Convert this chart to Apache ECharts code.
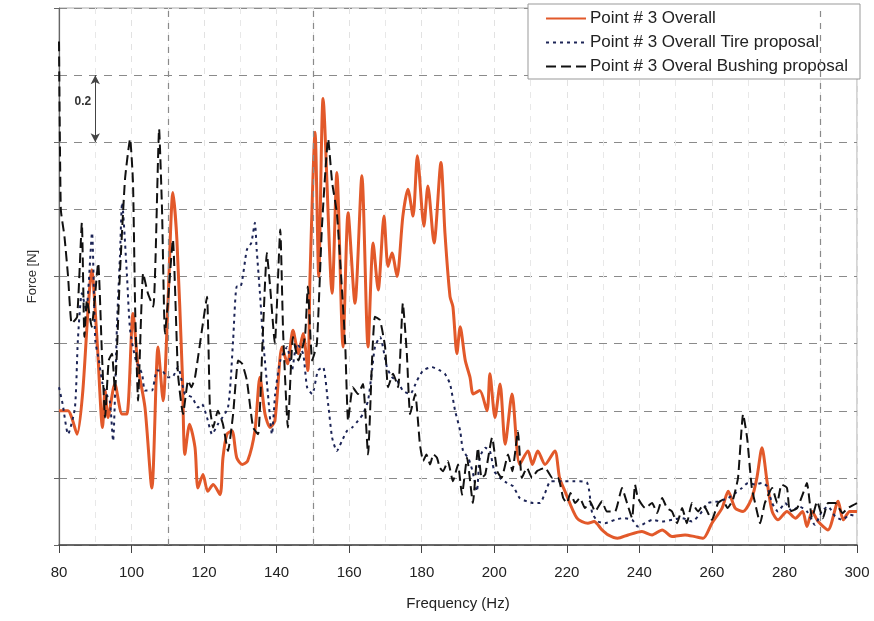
<!DOCTYPE html>
<html>
<head>
<meta charset="utf-8">
<script src="https://cdn.jsdelivr.net/npm/echarts@6/dist/echarts.min.js"></script>
<style>html,body{margin:0;padding:0;background:#fff;}#main{width:874px;height:621px;}</style>
</head>
<body>
<div id="main"></div>
<script>
// ---- Data ----
const seriesNames = ['Point # 3 Overall', 'Point # 3 Overall Tire proposal', 'Point # 3 Overal Bushing proposal'];
const xTicks = [80,100,120,140,160,180,200,220,240,260,280,300];

const overallFreq = [80,82.5,83.5,85,86.5,88,89,90.5,92,92.7,93.5,95.4,97.4,98.7,100.4,101.8,103.7,105.6,107.3,108.7,110,111.4,112.5,114,114.7,116,117.5,118.3,119.7,121,122.5,124.4,125.2,126.3,127.7,129,130.5,132,134,135.4,136.8,138.2,139.5,141.5,143,144.5,146,147.3,148.6,149.2,150.6,151.6,152.8,155.3,156.6,158.3,159.7,161.6,163.5,165.2,166.6,168,169.6,170.7,171.8,173.2,174.8,176.2,177.6,178.8,180.6,181.7,183.4,185.3,186.4,187.8,188.6,189.7,190.6,192,193.3,194.2,196,198,198.8,200.2,201.6,203,204.9,207,209.3,210.5,212,214,216.7,218,219.5,222.8,225.8,227.5,229.7,231.4,234,236.9,240.7,243.5,246.3,249,252.6,255.3,257.6,260,262.8,264.5,266.4,268.6,271,272.4,273.8,275.2,276.6,278.2,280.7,283,285,286.2,287.6,289.3,292,294.8,296.2,298,300];
const overallForce = [0.40,0.40,0.38,0.33,0.45,0.70,0.82,0.61,0.35,0.46,0.38,0.48,0.39,0.39,0.69,0.53,0.41,0.17,0.59,0.43,0.71,1.05,0.91,0.51,0.27,0.36,0.29,0.17,0.21,0.16,0.18,0.15,0.26,0.33,0.34,0.26,0.24,0.25,0.34,0.50,0.39,0.35,0.37,0.59,0.54,0.64,0.57,0.63,0.52,0.80,1.23,0.80,1.33,0.75,1.11,0.59,0.99,0.72,1.10,0.59,0.90,0.76,0.98,0.83,0.87,0.80,0.98,1.06,0.98,1.16,0.95,1.07,0.90,1.14,0.93,0.74,0.71,0.57,0.65,0.55,0.50,0.45,0.46,0.40,0.51,0.38,0.48,0.30,0.45,0.24,0.28,0.24,0.28,0.24,0.28,0.20,0.16,0.08,0.065,0.07,0.045,0.03,0.02,0.03,0.04,0.03,0.045,0.025,0.03,0.025,0.02,0.065,0.11,0.16,0.11,0.10,0.14,0.20,0.29,0.19,0.10,0.075,0.10,0.08,0.10,0.055,0.10,0.07,0.045,0.13,0.075,0.10,0.10];

const tireFreq = [80,81,82.5,84.4,85.2,86.3,87.5,89.1,90,91,92,93,94,94.9,96,96.8,97.4,98.7,99.6,101.2,102.9,103.7,105.6,107,108.4,109.8,111.2,112.8,114.7,116.7,118.3,119.4,120.8,122.2,123.8,126.6,128,129,130,131.8,133,134,134.5,135.4,136.2,137.6,138.7,139.6,141,142.9,144.2,145.6,147.3,148.4,149.8,151.4,152.8,154.2,155.3,156.6,158,159.4,160.8,162.4,163.8,165.2,166.3,167.1,168.5,170.4,171.8,173.2,174.8,176.8,178.7,180.4,182.8,185,186.4,187.8,189.2,190.6,191.4,192.8,194,195.2,196,197.5,198.8,200,201.5,203.5,205.2,207,209,210.7,212.6,214,215.5,217,219.5,222,225.6,227,228.6,230.5,233.3,235.5,238,239.6,241.6,243.5,246.3,249,251.8,254.5,257.3,258.9,261.7,264.5,266.5,268.3,270,271.9,273.8,275.2,276.6,278.2,280.2,282.1,284,286.2,288.4,290.3,292,294,296,298,300];
const tireForce = [0.47,0.42,0.33,0.41,0.61,0.75,0.70,0.93,0.61,0.55,0.48,0.45,0.43,0.31,0.66,0.86,1.02,0.81,0.64,0.55,0.51,0.46,0.46,0.52,0.52,0.50,0.50,0.53,0.45,0.44,0.41,0.42,0.38,0.33,0.36,0.41,0.61,0.77,0.77,0.88,0.90,0.96,0.88,0.75,0.62,0.45,0.33,0.45,0.55,0.59,0.52,0.60,0.57,0.47,0.45,0.52,0.53,0.42,0.32,0.28,0.31,0.34,0.35,0.37,0.39,0.43,0.52,0.59,0.62,0.53,0.50,0.49,0.46,0.45,0.49,0.52,0.53,0.52,0.51,0.48,0.40,0.34,0.28,0.26,0.22,0.16,0.26,0.29,0.28,0.22,0.20,0.185,0.175,0.14,0.13,0.125,0.125,0.155,0.19,0.19,0.19,0.19,0.185,0.095,0.07,0.065,0.075,0.08,0.075,0.055,0.065,0.075,0.07,0.075,0.08,0.07,0.10,0.125,0.13,0.14,0.155,0.17,0.185,0.18,0.185,0.175,0.125,0.10,0.125,0.10,0.115,0.10,0.06,0.10,0.115,0.085,0.075,0.09,0.085];

const bushFreq = [80,80.5,81.5,82.5,83.5,85,86.3,87,87.7,89,90.8,91.8,92.7,93.7,94.6,95.4,96.8,98.2,99.6,100.4,101,101.8,103.2,104.5,106,106.6,107.6,108.4,109.2,110,111.4,112.8,114.2,115.6,116.5,117.5,119.4,120.8,121.6,122.5,123.8,125.2,126.6,128,129.4,130.5,131.8,133.5,134.9,136.2,137.3,138.2,139.5,141,141.8,143.1,144.5,146,147.8,148.6,149.8,151.1,152.5,154.2,155.3,156.6,157.5,158.9,159.7,161,162.4,163.8,165.2,166.3,167.1,168.5,169.9,170.7,172.1,173.5,174.8,175.9,176.8,178.2,179.5,180.4,181.3,182.3,183.2,184.2,185,185.9,187.2,188.6,190,191.1,192.5,194.1,195.5,196.5,197.5,199.4,200.8,202,203.8,205,206.5,207.6,209,210.4,211.8,214,216,217.6,219,220,221,222.3,223.6,225,226.4,227.8,229.7,231,233.3,235.2,236.6,238,238.8,239.6,241.6,243.5,244.9,246.3,247.6,249,250.4,251.8,253.1,254.5,256.2,257.6,260,261.7,263,264.3,265.8,267.2,268.6,269.7,271,271.9,273.3,274.6,276.6,278,279.2,280.7,281.5,283.5,285,286.2,287.6,289,290.6,292,294,296,297.5,300];
const bushForce = [1.50,1.00,0.92,0.80,0.66,0.68,0.96,0.62,0.73,0.65,0.84,0.58,0.38,0.55,0.57,0.46,0.81,1.09,1.21,1.08,0.70,0.43,0.81,0.75,0.71,0.85,1.24,1.00,0.63,0.72,0.91,0.51,0.39,0.49,0.47,0.50,0.64,0.74,0.41,0.35,0.40,0.36,0.28,0.39,0.55,0.54,0.49,0.35,0.33,0.63,0.87,0.77,0.60,0.94,0.63,0.35,0.62,0.55,0.62,0.77,0.55,0.60,0.95,1.21,1.08,0.99,0.85,0.60,0.37,0.47,0.45,0.48,0.27,0.55,0.68,0.67,0.59,0.47,0.51,0.47,0.72,0.57,0.39,0.45,0.30,0.25,0.27,0.24,0.27,0.26,0.23,0.22,0.25,0.19,0.24,0.15,0.26,0.125,0.29,0.20,0.21,0.32,0.22,0.20,0.27,0.22,0.34,0.20,0.23,0.20,0.22,0.23,0.20,0.20,0.14,0.125,0.155,0.125,0.14,0.11,0.13,0.10,0.13,0.10,0.10,0.17,0.125,0.08,0.18,0.14,0.11,0.125,0.095,0.14,0.11,0.10,0.065,0.11,0.065,0.125,0.10,0.12,0.075,0.125,0.135,0.11,0.135,0.20,0.39,0.32,0.17,0.125,0.065,0.125,0.17,0.125,0.18,0.17,0.10,0.11,0.15,0.185,0.08,0.13,0.08,0.125,0.125,0.095,0.11,0.125];

// reference (darker) vertical grid lines and the "0.2" scale annotation
const darkGridFreq = [110, 150, 290];
const annotFreq = 90, annotLow = 1.2, annotHigh = 1.4;
const annotLabelPos = [86.6, 1.32];

function zip(a, b) { return a.map((x, i) => [x, b[i]]); }

const FONT = "'Liberation Sans Narrow', 'Liberation Sans', Arial, sans-serif";
const chart = echarts.init(document.getElementById('main'), null, {renderer: 'canvas'});

chart.setOption({
  animation: false,
  backgroundColor: '#fff',
  textStyle: {fontFamily: FONT},
  grid: {left: 59, right: 17, top: 8, bottom: 76, show: true, borderColor: '#aaa', borderWidth: 1},
  legend: {
    data: seriesNames,
    orient: 'vertical',
    right: 14, top: 4,
    padding: [6, 12, 4, 17],
    itemGap: 7, itemWidth: 40, itemHeight: 17,
    backgroundColor: '#fff', borderColor: '#999', borderWidth: 1,
    itemStyle: {opacity: 0},
    textStyle: {fontFamily: "'Liberation Sans', Arial, sans-serif", fontSize: 17, color: '#222', padding: [0, 0, 0, -1]},
    align: 'left'
  },
  xAxis: {
    type: 'value', min: 80, max: 300, interval: 20,
    name: 'Frequency (Hz)', nameLocation: 'middle', nameGap: 51,
    nameTextStyle: {fontSize: 15, color: '#222', fontFamily: FONT},
    axisLine: {show: true, onZero: false, lineStyle: {color: '#444', width: 1.5}},
    axisTick: {show: true, inside: false, length: 8, lineStyle: {color: '#444'}},
    axisLabel: {show: true, margin: 20, fontSize: 15, color: '#222', fontFamily: FONT,
      formatter: v => xTicks.includes(v) ? String(v) : ''},
    splitLine: {show: true, lineStyle: {color: '#e2e2e2', type: [6, 6], width: 1}},
    minorTick: {show: false, splitNumber: 2},
    minorSplitLine: {show: true, lineStyle: {color: '#e8e8e8', type: [6, 6], width: 1}}
  },
  yAxis: {
    type: 'value', min: 0, max: 1.6, interval: 0.2,
    name: 'Force [N]', nameLocation: 'middle', nameGap: 20,
    nameTextStyle: {fontSize: 13, color: '#333', fontFamily: "'Liberation Sans', Arial, sans-serif"},
    axisLine: {show: true, lineStyle: {color: '#666', width: 1.2}},
    axisTick: {show: true, inside: false, length: 5, lineStyle: {color: '#666'}},
    axisLabel: {show: false},
    splitLine: {show: true, lineStyle: {color: '#8a8a8a', type: [8, 7], width: 1}}
  },
  series: [
    {
      name: seriesNames[0], type: 'line', symbol: 'none', smooth: 0.25, z: 3,
      data: zip(overallFreq, overallForce),
      lineStyle: {color: '#e2592a', width: 3},
      itemStyle: {color: '#e2592a'},
      markLine: {
        silent: true, symbol: 'none',
        label: {show: false},
        lineStyle: {color: '#8a8a8a', type: [6, 6], width: 1.2},
        data: darkGridFreq.map(f => ({xAxis: f}))
      }
    },
    {
      name: seriesNames[1], type: 'line', symbol: 'none', smooth: 0.2, z: 4,
      data: zip(tireFreq, tireForce),
      lineStyle: {color: '#1c2456', width: 2, type: [3, 4]},
      itemStyle: {color: '#1c2456'},
      markLine: {
        silent: true, symbol: ['arrow', 'arrow'], symbolSize: [7, 9],
        label: {show: false},
        lineStyle: {color: '#444', type: 'solid', width: 1},
        data: [[{coord: [annotFreq, annotLow]}, {coord: [annotFreq, annotHigh]}]]
      },
      markPoint: {
        silent: true, symbol: 'circle', symbolSize: 1,
        itemStyle: {color: 'rgba(0,0,0,0)'},
        label: {show: true, position: 'inside', formatter: '0.2', fontSize: 12, fontWeight: 'bold',
          color: '#333', fontFamily: "'Liberation Sans', Arial, sans-serif"},
        data: [{coord: annotLabelPos}]
      }
    },
    {
      name: seriesNames[2], type: 'line', symbol: 'none', smooth: 0.15, z: 5,
      data: zip(bushFreq, bushForce),
      lineStyle: {color: '#111', width: 2, type: [10, 5]},
      itemStyle: {color: '#111'}
    }
  ]
});
</script>
</body>
</html>
